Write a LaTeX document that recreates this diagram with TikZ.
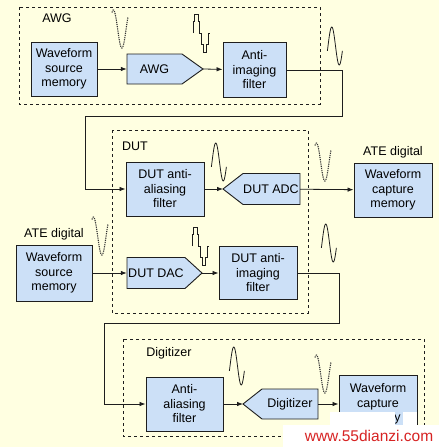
\documentclass[tikz,border=0pt]{standalone}
\usepackage{fontspec}
\setmainfont{Liberation Sans}
\usetikzlibrary{arrows.meta}
\definecolor{paper}{RGB}{255,255,225}
\definecolor{boxblue}{RGB}{204,224,247}
\definecolor{edge}{RGB}{30,30,30}
\definecolor{wmred}{RGB}{215,35,35}
\tikzset{
  blk/.style={draw=edge,fill=boxblue,line width=0.9pt,align=center,inner sep=1pt},
  ampbody/.style={inner sep=0pt,align=center},
  grp/.style={draw=edge,dashed,line width=0.7pt},
  wire/.style={draw=edge,line width=0.8pt},
  sinewave/.pic={\draw[line width=0.8pt,edge] plot[domain=-15:345,samples=40,smooth] ({\x/360*15},{-19*sin(\x)});},
  dotwave/.pic={\draw[dash pattern=on 1.2pt off 1pt,line width=1.1pt,black!80] plot[domain=60:400,samples=40,smooth] ({(\x-60)/340*16},{-19*sin(\x)});},
  stairwave/.pic={\draw[line width=0.8pt,edge] plot[const plot mark right,domain=0:360,samples=11] ({\x/360*17},{-20*sin(\x)});}
}
\begin{document}
\begin{tikzpicture}[x=1pt,y=-1pt,font=\fontsize{12.5}{14.5}\selectfont,>={Latex[length=6pt,width=4.5pt]}]
\fill[paper] (0,0) rectangle (439,447);
\useasboundingbox (0,0) rectangle (439,447);
% dashed groups
\draw[grp] (19,7) rectangle (320,104);
\draw[grp] (112,130) rectangle (308,313);
\draw[grp] (123,339) rectangle (424,436);
\node (awglbl) at (57,18){AWG};
\node (dutlbl) at (135,146){DUT};
\node (digilbl) at (169,353){Digitizer};
\node (ate1) at (393,152){ATE digital};
\node (ate2) at (54,234){ATE digital};
% converter outlines
\draw[blk] (127,54) -- (182,54) -- (203,69) -- (182,84) -- (127,84) -- cycle;
\draw[blk] (223,189) -- (243,173.5) -- (300,173.5) -- (300,204.5) -- (243,204.5) -- cycle;
\draw[blk] (127,257.5) -- (185,257.5) -- (202,273) -- (185,288.5) -- (127,288.5) -- cycle;
\draw[blk] (243,404) -- (262,389) -- (318,389) -- (318,419) -- (262,419) -- cycle;
% blocks
\node[blk,minimum width=66,minimum height=54] (wsm1) at (64,69){Waveform\\source\\memory};
\node[ampbody,minimum width=55,minimum height=30] (awg) at (154.5,69){AWG};
\node[blk,minimum width=63,minimum height=55] (aif) at (254.5,70){Anti-\\imaging\\filter};
\node[blk,minimum width=78,minimum height=54] (daaf) at (165,189){DUT anti-\\aliasing\\filter};
\node[ampbody,minimum width=58,minimum height=31] (adc) at (271,189){DUT ADC};
\node[blk,minimum width=78,minimum height=54] (wcm1) at (393,190){Waveform\\capture\\memory};
\node[blk,minimum width=76,minimum height=56] (wsm2) at (54,273){Waveform\\source\\memory};
\node[ampbody,minimum width=58,minimum height=31] (dac) at (156,273){DUT DAC};
\node[blk,minimum width=78,minimum height=53] (daif) at (258,273){DUT anti-\\imaging\\filter};
\node[blk,minimum width=77,minimum height=54] (aaf) at (184.5,404){Anti-\\aliasing\\filter};
\node[ampbody,minimum width=56,minimum height=30] (dig) at (290,404){Digitizer};
\node[blk,minimum width=78,minimum height=57] (wcm2) at (378,404){Waveform\\capture\\memory};
% converter tips and wire corners
\coordinate (awgtip) at (203,69);
\coordinate (adctip) at (223,189);
\coordinate (dactip) at (202,273);
\coordinate (digtip) at (243,404);
\coordinate (c1) at (342,116);
\coordinate (c2) at (85,189);
\coordinate (c3) at (339,323);
\coordinate (c4) at (104,404);
%
\draw[wire,->] (wsm1) -- (awg);
\draw[wire,->] (awgtip) -- (aif);
\draw[wire,->] (aif.east) -| (c1) -| (c2) -- (daaf);
\draw[wire,->] (daaf) -- (adctip);
\draw[wire,->] (adc) -- (wcm1);
\draw[wire,->] (wsm2) -- (dac);
\draw[wire,->] (dactip) -- (daif);
\draw[wire,->] (daif.east) -| (c3) -| (c4) -- (aaf);
\draw[wire,->] (aaf) -- (digtip);
\draw[wire,->] (dig) -- (wcm2);
% signal sketches
\pic at (112,29) {dotwave};
\pic at (193,33) {stairwave};
\pic at (328,46) {sinewave};
\pic at (212,162) {sinewave};
\pic at (315,162) {dotwave};
\pic at (92,236) {dotwave};
\pic at (192,246) {stairwave};
\pic at (322,243) {sinewave};
\pic at (230,366) {sinewave};
\pic at (315,374) {dotwave};
% site mark
\fill[white] (330,412) rectangle (395,425);
\fill[white] (403,412) rectangle (417,425);
\fill[white] (283,425) rectangle (439,447);
\node[text=wmred,font=\fontsize{15.5}{16}\selectfont] (wm) at (369,436){www.55dianzi.com};
\end{tikzpicture}
\end{document}
